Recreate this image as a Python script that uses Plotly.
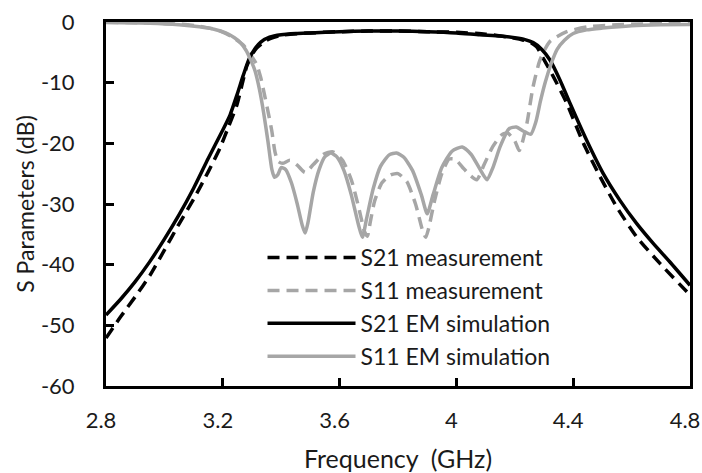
import plotly.graph_objects as go

# Frequency (GHz) / magnitude (dB) samples for each S-parameter trace
s21_meas_f = [2.80, 2.85, 2.90, 2.95, 3.00, 3.05, 3.10, 3.15, 3.19, 3.22, 3.248, 3.265, 3.282,
              3.30, 3.316, 3.35, 3.40, 3.50, 3.60, 3.70, 3.80, 3.90, 4.00, 4.10, 4.18, 4.23,
              4.255, 4.275, 4.30, 4.332, 4.378, 4.435, 4.492, 4.549, 4.617, 4.697, 4.80]
s21_meas_db = [-52.1, -48.6, -45.3, -41.8, -37.6, -33.3, -29.2, -24.7, -20.8, -17.2, -13.7, -10.5, -7.3,
               -5.4, -4.3, -3.0, -2.2, -1.8, -1.6, -1.5, -1.5, -1.6, -1.7, -2.0, -2.5, -3.0,
               -3.4, -4.1, -6.2, -9.0, -13.4, -20.0, -25.5, -30.5, -35.4, -39.8, -45.0]

s11_meas_f = [2.80, 2.95, 3.05, 3.12, 3.18, 3.23, 3.27, 3.295, 3.316, 3.33, 3.345, 3.358,
              3.368, 3.379, 3.39, 3.405, 3.43, 3.455, 3.482, 3.51, 3.545, 3.577, 3.61, 3.64,
              3.665, 3.685, 3.695, 3.705, 3.72, 3.745, 3.775, 3.80, 3.83, 3.86, 3.885, 3.895,
              3.905, 3.925, 3.95, 3.975, 3.995, 4.02, 4.045, 4.07, 4.095, 4.125, 4.155, 4.175,
              4.20, 4.215, 4.225, 4.242, 4.262, 4.286, 4.32, 4.378, 4.45, 4.55, 4.65, 4.80]
s11_meas_db = [-0.05, -0.15, -0.35, -0.7, -1.3, -2.4, -3.8, -5.4, -7.0, -9.2, -12.5, -15.5,
               -18.0, -21.5, -23.0, -23.3, -22.8, -23.6, -24.8, -23.5, -21.8, -21.4, -22.8, -26.0,
               -30.5, -34.5, -35.3, -33.0, -29.5, -26.5, -25.2, -25.0, -26.3, -30.0, -34.5, -35.5,
               -34.0, -29.5, -25.0, -22.6, -22.6, -23.9, -25.2, -26.0, -23.5, -20.5, -18.6, -18.3,
               -19.6, -21.2, -20.0, -16.6, -10.8, -6.3, -3.2, -1.6, -0.8, -0.45, -0.3, -0.1]

s21_sim_f = [2.80, 2.85, 2.90, 2.95, 3.00, 3.05, 3.10, 3.15, 3.20, 3.225, 3.25, 3.27, 3.29,
             3.31, 3.33, 3.36, 3.40, 3.45, 3.50, 3.60, 3.70, 3.80, 3.90, 4.00, 4.08, 4.15,
             4.20, 4.235, 4.263, 4.29, 4.321, 4.355, 4.389, 4.446, 4.503, 4.56, 4.617, 4.674,
             4.732, 4.80]
s21_sim_db = [-48.3, -45.7, -42.8, -39.5, -35.8, -31.8, -27.4, -22.5, -17.8, -15.3, -11.8, -8.8, -6.1,
              -4.4, -3.3, -2.5, -2.1, -1.9, -1.8, -1.6, -1.5, -1.5, -1.6, -1.8, -2.1, -2.3,
              -2.6, -2.9, -3.4, -4.4, -6.3, -9.6, -13.4, -19.5, -25.0, -29.4, -33.2, -36.5,
              -39.6, -43.4]

s11_sim_f = [2.80, 2.95, 3.05, 3.12, 3.17, 3.21, 3.24, 3.26, 3.28, 3.295, 3.31, 3.325, 3.34,
             3.355, 3.368, 3.377, 3.388, 3.40, 3.415, 3.435, 3.455, 3.472, 3.482, 3.492, 3.51,
             3.53, 3.55, 3.57, 3.59, 3.615, 3.64, 3.665, 3.678, 3.692, 3.715, 3.74, 3.77,
             3.795, 3.82, 3.85, 3.88, 3.9, 3.92, 3.95, 3.985, 4.02, 4.05, 4.08, 4.105,
             4.125, 4.15, 4.18, 4.205, 4.23, 4.255, 4.272, 4.288, 4.305, 4.325, 4.345, 4.37,
             4.40, 4.446, 4.50, 4.60, 4.70, 4.80]
s11_sim_db = [-0.1, -0.2, -0.45, -0.8, -1.2, -1.8, -2.6, -3.4, -4.7, -6.2, -8.0, -11.0, -15.0,
              -19.8, -24.3, -25.6, -25.2, -24.0, -24.3, -26.5, -30.0, -33.5, -34.8, -33.0, -28.0,
              -24.3, -22.2, -21.6, -22.2, -24.5, -28.5, -33.5, -35.5, -32.5, -27.5, -23.8, -21.9,
              -21.6, -22.3, -24.5, -28.5, -31.6, -28.5, -24.0, -21.3, -20.6, -21.8, -24.2, -26.0,
              -24.0, -20.5, -17.6, -17.3, -18.0, -18.5, -16.5, -13.0, -9.8, -6.8, -4.5, -3.0,
              -1.9, -1.3, -1.0, -0.6, -0.45, -0.4]

x_ticks = [2.8, 3.2, 3.6, 4.0, 4.4, 4.8]
x_tick_text = ["2.8", "3.2", "3.6", "4", "4.4", "4.8"]
y_ticks = [-60, -50, -40, -30, -20, -10, 0]
y_tick_text = ["-60", "-50", "-40", "-30", "-20", "-10", "0"]

BLACK = "#000000"
GREY = "#a6a6a6"
FONT = "Lato"
TEXT = "#1a1a1a"

fig = go.Figure()
series = [
    ("S21 measurement", s21_meas_f, s21_meas_db, BLACK, "12px,7px"),
    ("S11 measurement", s11_meas_f, s11_meas_db, GREY, "12px,7px"),
    ("S21 EM simulation", s21_sim_f, s21_sim_db, BLACK, "solid"),
    ("S11 EM simulation", s11_sim_f, s11_sim_db, GREY, "solid"),
]
for name, f, db, color, dash in series:
    fig.add_trace(go.Scatter(
        x=f, y=db, name=name, mode="lines", legendgroup=name,
        line=dict(color=color, width=3.5, dash=dash, shape="spline", smoothing=0.6),
    ))

axis_common = dict(
    showline=True, linecolor=BLACK, linewidth=3, mirror=True,
    ticks="inside", ticklen=8, tickwidth=2.5, tickcolor=BLACK,
    showgrid=False, zeroline=False, ticklabeloverflow="allow",
    automargin=False,
    tickfont=dict(family=FONT, size=22, color=TEXT),
)

fig.update_layout(
    width=702, height=473,
    margin=dict(l=106, r=12, t=22, b=87),
    paper_bgcolor="white", plot_bgcolor="white",
    showlegend=True,
    legend=dict(
        x=0.268, y=0.412, xanchor="left", yanchor="top",
        bgcolor="rgba(0,0,0,0)", borderwidth=0,
        font=dict(family=FONT, size=23, color=TEXT),
        itemwidth=88, tracegroupgap=0,
    ),
    xaxis=dict(
        range=[2.8, 4.8], tickvals=x_ticks, ticktext=x_tick_text,
        ticklabelstandoff=13, ticklabelshift=-5,
        title=dict(text="Frequency  (GHz)", font=dict(family=FONT, size=25, color=TEXT), standoff=20),
        **axis_common,
    ),
    yaxis=dict(
        range=[-60, 0], tickvals=y_ticks, ticktext=y_tick_text,
        ticklabelstandoff=24,
        title=dict(text="S Parameters (dB)", font=dict(family=FONT, size=23, color=TEXT), standoff=0),
        **axis_common,
    ),
)

fig.write_html("out.html")
